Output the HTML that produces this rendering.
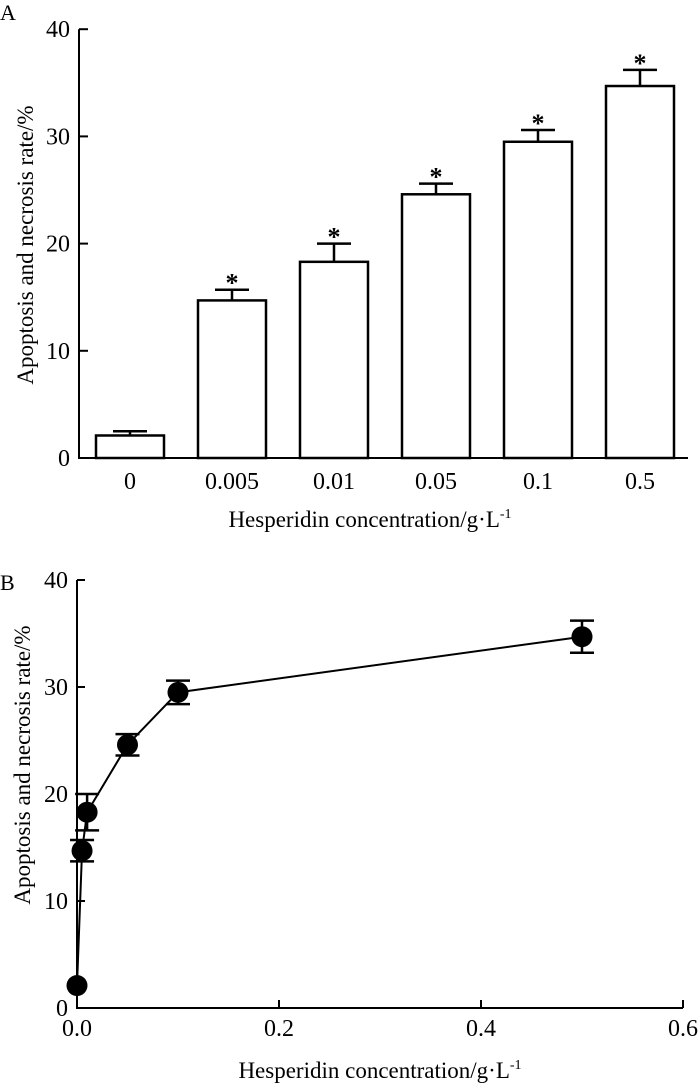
<!DOCTYPE html>
<html><head><meta charset="utf-8"><style>
body{margin:0;background:#fff}
svg{display:block;font-family:"Liberation Serif",serif}
</style></head><body>
<svg id="s" width="700" height="1088"></svg>
<script>
const categories=["0","0.005","0.01","0.05","0.1","0.5"];
const concentrations=[0,0.005,0.01,0.05,0.1,0.5];
const rates=[2.1,14.7,18.3,24.6,29.5,34.7];
const errors=[0.4,1.0,1.7,1.0,1.1,1.5];
const yTicks=[0,10,20,30,40];
const xTicksB=[0,0.2,0.4,0.6];
const xTickLabelsB=["0.0","0.2","0.4","0.6"];
const NS="http://www.w3.org/2000/svg";
const svg=document.getElementById('s');
function mk(t,a,p){const e=document.createElementNS(NS,t);for(const k in a)e.setAttribute(k,a[k]);(p||svg).appendChild(e);return e;}
function txt(s,a,p){const e=mk('text',a,p);e.textContent=s;return e;}
// Panel A
const gA=mk('g',{});


const yA=v=>458-v*10.72;
const xA=i=>130+i*102;
let t=txt('A',{x:0,y:20,'font-size':22},gA);

let ax=mk('path',{d:'M79,'+yA(40)+'V458H688',stroke:'#000','stroke-width':2,fill:'none'},gA);

yTicks.forEach(v=>{
 const l=mk('line',{x1:79,x2:88,y1:yA(v),y2:yA(v),stroke:'#000','stroke-width':2},gA);
 
 const tt=txt(String(v),{x:70,y:yA(v)+8,'font-size':24,'text-anchor':'end'},gA);
 
});
rates.forEach((v,i)=>{
 const x=xA(i);
 const e=mk('path',{d:`M${x},${yA(v)}V${yA(v+errors[i])}M${x-17},${yA(v+errors[i])}H${x+17}`,stroke:'#000','stroke-width':2.5},gA);
 
 const r=mk('rect',{x:x-34,y:yA(v),width:68,height:458-yA(v),fill:'#fff',stroke:'#000','stroke-width':2.5},gA);
 
 if(i>0){const s=txt('*',{x:x,y:yA(v+errors[i])+2,'font-size':26,'font-weight':'bold','text-anchor':'middle'},gA);
 }
 const c=txt(categories[i],{x:x,y:489,'font-size':24,'text-anchor':'middle'},gA);
 
});
t=txt('',{x:370,y:527,'font-size':23,'text-anchor':'middle'},gA);
t.innerHTML='Hesperidin concentration/g·L<tspan dy="-9" font-size="14">-1</tspan>';

t=txt('Apoptosis and necrosis rate/%',{x:0,y:0,'font-size':23,'text-anchor':'middle',transform:'translate(33,245) rotate(-90)'},gA);

// Panel B
const gB=mk('g',{});


const yB=v=>1008-v*10.7;
const xB=v=>77+v*1010;
t=txt('B',{x:0,y:590,'font-size':22},gB);

ax=mk('path',{d:`M77,${yB(40)}V1008H${xB(0.6)}`,stroke:'#000','stroke-width':2,fill:'none'},gB);

yTicks.forEach(v=>{
 const l=mk('line',{x1:77,x2:85,y1:yB(v),y2:yB(v),stroke:'#000','stroke-width':2},gB);
 
 const tt=txt(String(v),{x:68,y:yB(v)+8,'font-size':24,'text-anchor':'end'},gB);
 
});
xTicksB.forEach((v,i)=>{
 const l=mk('line',{x1:xB(v),x2:xB(v),y1:1008,y2:1000,stroke:'#000','stroke-width':2},gB);
 
 const tt=txt(xTickLabelsB[i],{x:xB(v),y:1036,'font-size':24,'text-anchor':'middle'},gB);
 
});
const ln=mk('polyline',{points:concentrations.map((c,i)=>xB(c)+','+yB(rates[i])).join(' '),fill:'none',stroke:'#000','stroke-width':2},gB);

concentrations.forEach((c,i)=>{
 const x=xB(c),v=rates[i],e=errors[i];
 if(i>0){const eb=mk('path',{d:`M${x},${yB(v-e)}V${yB(v+e)}M${x-12},${yB(v-e)}H${x+12}M${x-12},${yB(v+e)}H${x+12}`,stroke:'#000','stroke-width':2.5},gB);
 }
 const p=mk('circle',{cx:x,cy:yB(v),r:10.5,fill:'#000'},gB);
 
});
t=txt('',{x:380,y:1078,'font-size':23,'text-anchor':'middle'},gB);
t.innerHTML='Hesperidin concentration/g·L<tspan dy="-9" font-size="14">-1</tspan>';

t=txt('Apoptosis and necrosis rate/%',{x:0,y:0,'font-size':23,'text-anchor':'middle',transform:'translate(30,765) rotate(-90)'},gB);

</script>
</body></html>
